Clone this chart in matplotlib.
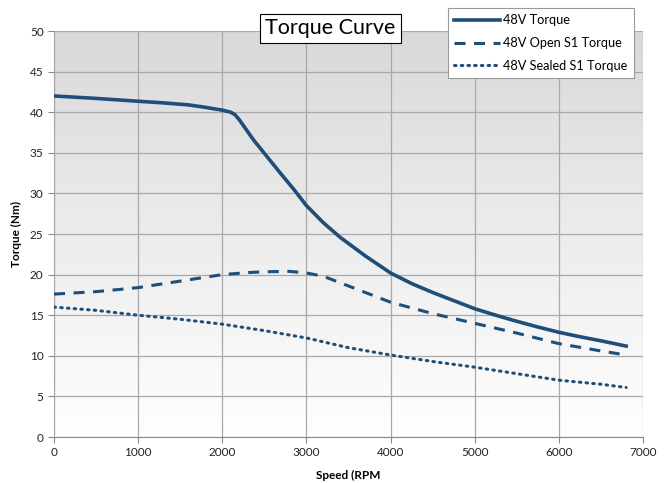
import numpy as np
import matplotlib.pyplot as plt

# speed (RPM) and torque (Nm)
rpm_full = [0, 500, 1000, 1300, 1600, 1800, 2000, 2100, 2150, 2200, 2370, 2690, 2850,
            3000, 3200, 3400, 3700, 4000, 4250, 4500, 4750, 5000, 5250, 5500,
            5750, 6000, 6250, 6500, 6800]
torque_full = [42.0, 41.7, 41.35, 41.15, 40.9, 40.6, 40.25, 40.0, 39.7, 39.1, 36.6, 32.5, 30.5,
               28.5, 26.4, 24.6, 22.3, 20.2, 18.9, 17.8, 16.8, 15.8, 15.0, 14.25,
               13.55, 12.9, 12.35, 11.85, 11.2]

rpm_open = [0, 500, 1000, 1500, 2000, 2300, 2500, 2800, 3000, 3200, 3500,
            4000, 4500, 5000, 5500, 6000, 6500, 6800]
torque_open = [17.6, 17.9, 18.4, 19.2, 20.0, 20.25, 20.35, 20.4, 20.2, 19.8, 18.6,
               16.6, 15.2, 14.0, 12.8, 11.5, 10.6, 10.1]

rpm_sealed = [0, 500, 1000, 1500, 2000, 2500, 3000, 3500, 4000, 4500,
              5000, 5500, 6000, 6500, 6800]
torque_sealed = [16.0, 15.6, 15.0, 14.5, 13.9, 13.1, 12.2, 11.0, 10.1, 9.3,
                 8.6, 7.8, 7.0, 6.5, 6.1]

labels = ["48V Torque", "48V Open S1 Torque", "48V Sealed S1 Torque"]

plt.rcParams['font.family'] = ['Lato', 'DejaVu Sans']
blue = "#1f4e79"

fig = plt.figure(figsize=(6.67, 4.83), dpi=100)
ax = fig.add_axes([0.081, 0.0952, 0.883, 0.8406])

# grey-to-white gradient behind the plot
grad = np.linspace(0, 1, 256).reshape(-1, 1)
ax.imshow(grad, cmap=plt.cm.colors.LinearSegmentedColormap.from_list(
    "bg", ["#ffffff", "#d9d9d9"]), origin="lower", aspect="auto",
    extent=[0, 7000, 0, 50], zorder=0)

ax.plot(rpm_full, torque_full, color=blue, lw=2.6, label=labels[0], zorder=3,
        solid_joinstyle="round")
ax.plot(rpm_open, torque_open, color=blue, lw=2.2, ls=(0, (3.6, 2.8)),
        dash_joinstyle="round", label=labels[1], zorder=3)
ax.plot(rpm_sealed, torque_sealed, color=blue, lw=2.2, ls=(0, (0.5, 1.7)),
        dash_capstyle="round", dash_joinstyle="round", label=labels[2], zorder=3)

ax.set_xlim(0, 7000)
ax.set_ylim(0, 50)
ax.set_xticks(range(0, 7001, 1000))
ax.set_yticks(range(0, 51, 5))
ax.grid(True, color="#a9a9a9", lw=0.9, zorder=1)
ax.set_axisbelow(False)
for s in ["top", "right"]:
    ax.spines[s].set_visible(False)
for s in ["left", "bottom"]:
    ax.spines[s].set_color("#888888")
ax.tick_params(colors="#888888", labelcolor="#222222", labelsize=8.5, length=4)

ax.set_xlabel("Speed (RPM", fontsize=8.5, fontweight="bold", labelpad=8)
ax.set_ylabel("Torque (Nm)", fontsize=8.5, fontweight="bold", labelpad=6)

fig.text(0.4955, 0.941, "Torque Curve", ha="center", va="center", fontsize=15.5,
         bbox=dict(facecolor="white", edgecolor="black", lw=0.8, pad=3.5))

leg = fig.legend(loc="upper left", bbox_to_anchor=(0.662, 0.997), fontsize=9.2,
                 handlelength=3.6, handletextpad=0.2, labelspacing=0.85,
                 fancybox=False, framealpha=1, edgecolor="#999999",
                 borderpad=0.5)
leg.get_frame().set_linewidth(0.8)

fig.savefig("out.png", dpi=100)
